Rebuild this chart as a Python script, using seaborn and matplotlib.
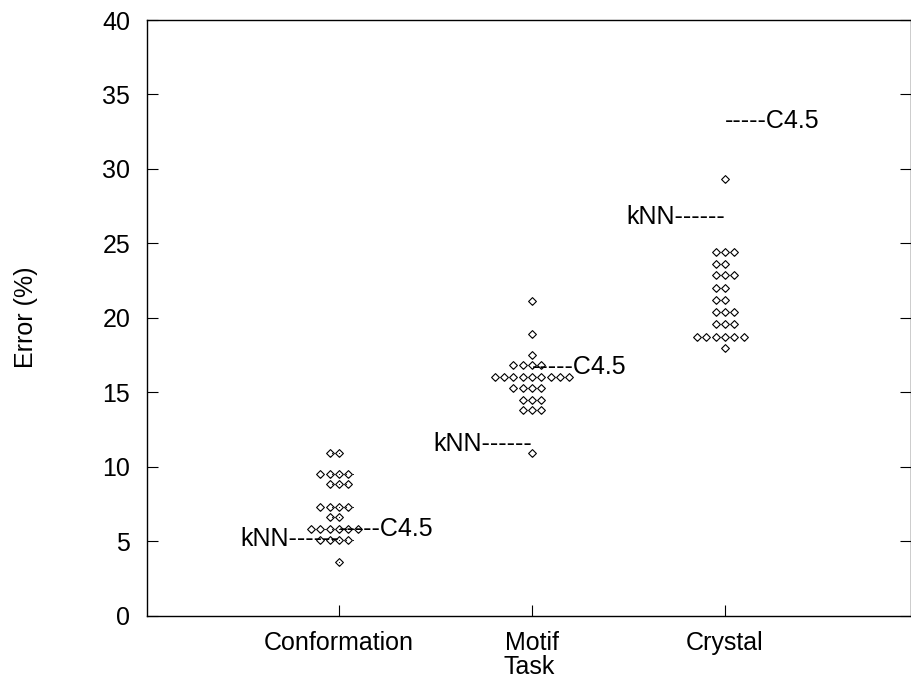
import matplotlib
matplotlib.use("Agg")
import matplotlib.pyplot as plt
import seaborn as sns
import pandas as pd
import numpy as np

# ---- data ----
tasks = ["Conformation", "Motif", "Crystal"]
conformation_err = [10.9, 10.9,
                    9.5, 9.5, 9.5, 9.5,
                    8.8, 8.8, 8.8,
                    7.3, 7.3, 7.3, 7.3,
                    6.6, 6.6,
                    5.8, 5.8, 5.8, 5.8, 5.8, 5.8,
                    5.1, 5.1, 5.1, 5.1,
                    3.6]
motif_err = [21.1, 18.9, 17.5,
             16.8, 16.8, 16.8, 16.8,
             16.0, 16.0, 16.0, 16.0, 16.0, 16.0, 16.0, 16.0, 16.0,
             15.3, 15.3, 15.3, 15.3,
             14.5, 14.5, 14.5,
             13.8, 13.8, 13.8,
             10.9]
crystal_err = [29.3,
               24.4, 24.4, 24.4,
               23.6, 23.6,
               22.9, 22.9, 22.9,
               22.0, 22.0,
               21.2, 21.2,
               20.4, 20.4, 20.4,
               19.6, 19.6, 19.6,
               18.7, 18.7, 18.7, 18.7, 18.7, 18.7,
               18.0]
knn_err = [5.15, 11.5, 26.8]
c45_err = [5.8, 16.7, 33.2]
yticks = [0, 5, 10, 15, 20, 25, 30, 35, 40]

df = pd.DataFrame({
    "Task": (["Conformation"] * len(conformation_err) + ["Motif"] * len(motif_err)
             + ["Crystal"] * len(crystal_err)),
    "Error": conformation_err + motif_err + crystal_err,
})

sns.set_style("white")
plt.rcParams["font.family"] = ["Liberation Sans", "DejaVu Sans"]
plt.rcParams["text.color"] = "black"
plt.rcParams["axes.labelcolor"] = "black"
plt.rcParams["xtick.color"] = "black"
plt.rcParams["ytick.color"] = "black"

fig = plt.figure(figsize=(9.12, 6.77), dpi=100)
ax = fig.add_axes([147 / 912, 1 - 615.5 / 677, (911 - 147) / 912, (615.5 - 20) / 677])

diamond = [(0, -1), (1, 0), (0, 1), (-1, 0), (0, -1)]
sns.swarmplot(data=df, x="Task", y="Error", order=tasks, ax=ax,
              marker=diamond, size=5.6, color="white", edgecolor="black",
              linewidth=0.8)

fig.canvas.draw()
coll = ax.collections[0]
offs = coll.get_offsets()
ax.scatter(offs[:, 0], offs[:, 1], s=0.6, color="black", marker="o",
           linewidths=0, zorder=5)

fs = 18
for i, t in enumerate(tasks):
    ax.text(i, knn_err[i], "kNN------", ha="right", va="center", fontsize=fs,
            color="black")
    ax.text(i, c45_err[i], "-----C4.5", ha="left", va="center", fontsize=fs,
            color="black")

ax.set_xlim(-0.995, 2.964)
ax.set_ylim(0, 40)
ax.set_yticks(yticks)
ax.set_xticks(range(len(tasks)))
ax.set_xticklabels(tasks, fontsize=fs)
ax.set_yticklabels([str(v) for v in yticks], fontsize=fs)
ax.set_xlabel("Task", fontsize=fs, labelpad=0)
ax.set_ylabel("Error (%)", fontsize=fs, labelpad=46)
ax.tick_params(axis="y", direction="in", length=8, width=0.8, left=True,
               right=True, pad=12)
ax.tick_params(axis="x", direction="in", length=8, width=0.8, bottom=True,
               top=False, pad=11)
for s in ax.spines.values():
    s.set_visible(True)
    s.set_color("black")
    s.set_linewidth(1.0)

fig.savefig("out.png", dpi=100)
